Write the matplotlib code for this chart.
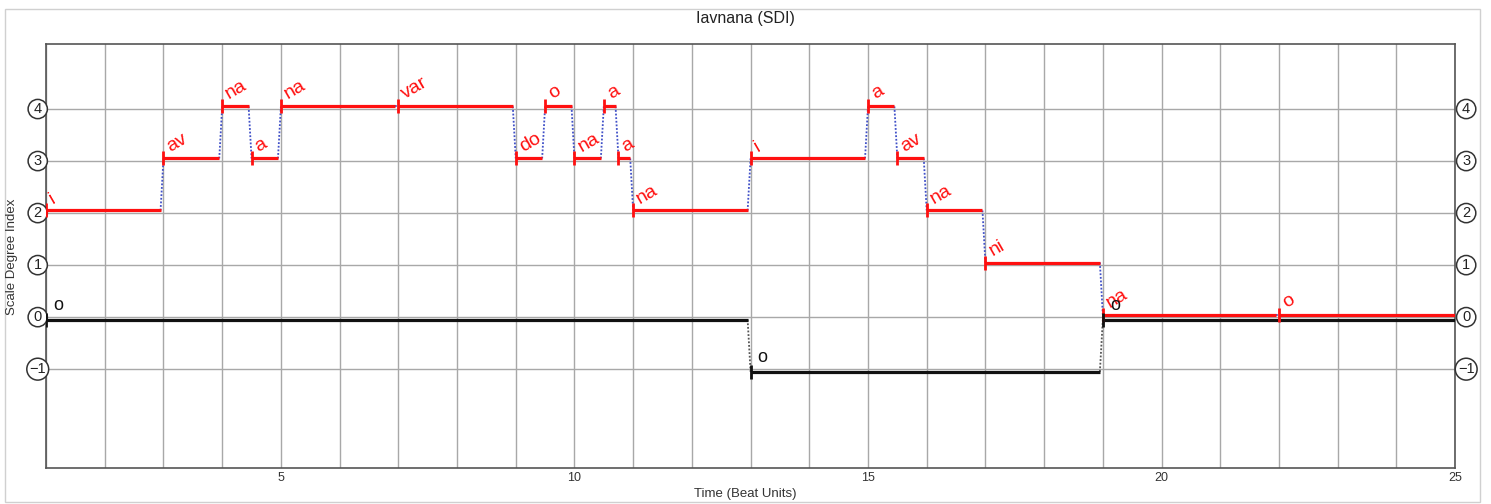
import matplotlib.pyplot as plt
from matplotlib.patches import Rectangle

plt.rcParams['font.family'] = ['Liberation Sans', 'DejaVu Sans']

# upper voice (red): segment starts, ends, scale degree, syllable
upper_start = [1, 3, 4, 4.5, 5, 7, 9, 9.5, 10, 10.5, 10.75, 11, 13, 15, 15.5, 16, 17, 19, 22]
upper_end = [3, 4, 4.5, 5, 7, 9, 9.5, 10, 10.5, 10.75, 11, 13, 15, 15.5, 16, 17, 19, 22, 25]
upper_sdi = [2, 3, 4, 3, 4, 4, 3, 4, 3, 4, 3, 2, 3, 4, 3, 2, 1, 0, 0]
upper_syl = ['i', 'av', 'na', 'a', 'na', 'var', 'do', 'o', 'na', 'a', 'a', 'na',
             'i', 'a', 'av', 'na', 'ni', 'na', 'o']

# lower voice (black drone)
lower_start = [1, 13, 19]
lower_end = [13, 19, 25]
lower_sdi = [0, -1, 0]
lower_syl = ['o', 'o', 'o']

ytick_vals = [-1, 0, 1, 2, 3, 4]
xtick_vals = list(range(1, 26))

fig = plt.figure(figsize=(14.91, 5.04), dpi=100)
ax = fig.add_axes([0.0309, 0.0714, 0.9450, 0.8413])

# thin frame round the whole figure
fig.patches.append(Rectangle((5 / 1491, 2 / 504), 1475 / 1491, 493 / 504,
                             transform=fig.transFigure, fill=False,
                             edgecolor='#d0d0d0', lw=1))


def draw_voice(starts, ends, vals, syls, off, col, conn_col, rot, txt_off, fs):
    gap = 0.05
    for i in range(len(starts)):
        y = vals[i] + off
        e = ends[i] - gap if i < len(starts) - 1 else ends[i]
        ax.plot([starts[i], e], [y, y], color=col, lw=2.3, solid_capstyle='butt', zorder=4)
        ax.plot([starts[i]], [y], marker='|', ms=10, mew=2, color=col, zorder=5)
        if i < len(starts) - 1:
            ax.plot([e, ends[i]], [y, vals[i + 1] + off], color=conn_col, lw=1.3,
                    linestyle=(0, (1, 1)), zorder=3)
        ax.annotate(syls[i], xy=(starts[i], y), xytext=txt_off, textcoords='offset points',
                    color=col, fontsize=fs, rotation=rot, rotation_mode='anchor',
                    ha='left', va='baseline', zorder=6)


draw_voice(upper_start, upper_end, upper_sdi, upper_syl, 0.05, '#ff1010', '#4050c8', 30, (5, 5), 14)
draw_voice(lower_start, lower_end, lower_sdi, lower_syl, -0.05, '#111111', '#555555', 0, (5, 7), 13)

ax.set_xlim(1, 25)
ax.set_ylim(-2.9, 5.25)
ax.set_xticks(xtick_vals)
ax.set_xticklabels([str(v) if v % 5 == 0 else '' for v in xtick_vals], fontsize=9, color='#333333')
ax.set_yticks(ytick_vals)
ax.set_yticklabels([])
ax.tick_params(length=0, pad=3)
ax.grid(True, color='#a8a8a8', lw=1)
ax.set_axisbelow(True)
for sp in ax.spines.values():
    sp.set_color('#555555')
    sp.set_linewidth(1.2)

# circled scale-degree labels on both sides
for v in ytick_vals:
    lab = str(v) if v >= 0 else '\u22121'
    for xf, dx in ((0, -6), (1, 8)):
        ax.annotate(lab, xy=(xf, v), xycoords=('axes fraction', 'data'), xytext=(dx, 0),
                    textcoords='offset points', ha='center', va='center', fontsize=10.5,
                    color='#222222',
                    bbox=dict(boxstyle='circle,pad=0.18', fc='white', ec='#333333', lw=1.1))

fig.text(0.5, 0.964, 'Iavnana (SDI)', ha='center', va='center', fontsize=11.5, color='#222222')
fig.text(0.5, 0.02, 'Time (Beat Units)', ha='center', va='center', fontsize=9.5, color='#333333')
fig.text(0.008, 0.49, 'Scale Degree Index', ha='center', va='center', rotation=90,
         fontsize=9.5, color='#333333')

fig.savefig('out.png', dpi=100)
